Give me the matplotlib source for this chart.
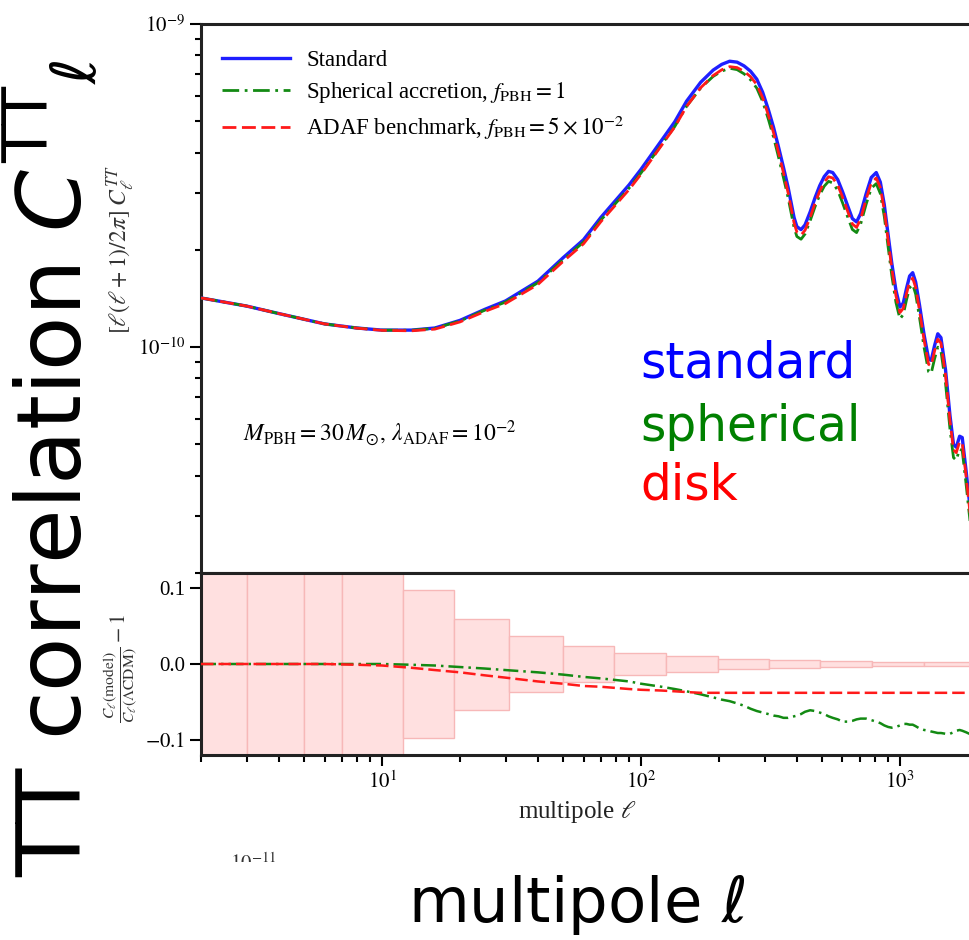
import matplotlib
matplotlib.use('Agg')
import matplotlib.pyplot as plt
from matplotlib.patches import Rectangle
import numpy as np

# multipoles (common grid for all curves)
ell = [2, 3, 4, 6, 8, 10,
       13, 16, 20, 25, 30,
       40, 50, 60, 70, 90,
       100, 120, 135, 150, 170,
       190, 205, 220, 235, 250,
       265, 280, 295, 310, 325,
       340, 355, 370, 390, 400,
       415, 430, 450, 470, 490,
       510, 530, 550, 575, 600,
       630, 655, 680, 705, 740,
       775, 810, 840, 870, 900,
       930, 965, 1000, 1030, 1060,
       1090, 1120, 1150, 1190, 1240,
       1290, 1320, 1360, 1400, 1440,
       1500, 1560, 1610, 1650, 1700,
       1740, 1800, 1880, 1960]

# [l(l+1)/2pi] C_l^TT for LCDM, in units of 1e-10
dl_std = [1.42, 1.34, 1.27, 1.18, 1.146, 1.129,
          1.129, 1.146, 1.21, 1.31, 1.39,
          1.60, 1.89, 2.15, 2.52, 3.18,
          3.55, 4.36, 4.98, 5.77, 6.60,
          7.20, 7.50, 7.67, 7.62, 7.42,
          7.14, 6.75, 6.15, 5.45, 4.79,
          4.15, 3.60, 3.12, 2.52, 2.36,
          2.31, 2.39, 2.62, 2.90, 3.16,
          3.37, 3.50, 3.47, 3.30, 3.03,
          2.72, 2.50, 2.44, 2.59, 2.98,
          3.35, 3.47, 3.24, 2.76, 2.23,
          1.82, 1.50, 1.33, 1.37, 1.52,
          1.66, 1.70, 1.59, 1.35, 1.09,
          0.92, 0.91, 1.01, 1.10, 1.07,
          0.85, 0.615, 0.50, 0.49, 0.53,
          0.525, 0.415, 0.30, 0.234]

# relative difference C_l / C_l(LCDM) - 1
res_sph = [0, 0, 0, 0, 0, 0,
           -0.001, -0.002, -0.004, -0.006, -0.008,
           -0.011, -0.014, -0.017, -0.019, -0.023,
           -0.026, -0.030, -0.033, -0.036, -0.040,
           -0.044, -0.047, -0.049, -0.052, -0.055,
           -0.059, -0.062, -0.064, -0.066, -0.068,
           -0.069, -0.071, -0.071, -0.069, -0.068,
           -0.066, -0.063, -0.061, -0.062, -0.064,
           -0.066, -0.069, -0.071, -0.073, -0.076,
           -0.076, -0.075, -0.073, -0.072, -0.072,
           -0.074, -0.076, -0.078, -0.081, -0.083,
           -0.084, -0.083, -0.081, -0.079, -0.079,
           -0.080, -0.080, -0.082, -0.085, -0.087,
           -0.088, -0.089, -0.090, -0.091, -0.091,
           -0.092, -0.092, -0.090, -0.088, -0.087,
           -0.088, -0.090, -0.093, -0.094]
res_adaf = [0, 0, 0, 0, -0.001, -0.002,
            -0.005, -0.008, -0.011, -0.015, -0.018,
            -0.023, -0.026, -0.029, -0.030, -0.033,
            -0.034, -0.035, -0.036, -0.037, -0.038,
            -0.038, -0.038, -0.038, -0.038, -0.038,
            -0.038, -0.038, -0.038, -0.038, -0.038,
            -0.038, -0.038, -0.038, -0.038, -0.038,
            -0.038, -0.038, -0.038, -0.038, -0.038,
            -0.038, -0.038, -0.038, -0.038, -0.038,
            -0.038, -0.038, -0.038, -0.038, -0.038,
            -0.038, -0.038, -0.038, -0.038, -0.038,
            -0.038, -0.038, -0.038, -0.038, -0.038,
            -0.038, -0.038, -0.038, -0.038, -0.038,
            -0.038, -0.038, -0.038, -0.038, -0.038,
            -0.038, -0.038, -0.038, -0.038, -0.038,
            -0.038, -0.038, -0.038, -0.038]

# binned error boxes on the residual
bin_edges = [2, 3, 5, 7, 12, 19, 31, 50, 79, 125, 198, 312, 491, 780, 1240, 1960]
bin_err = [1.0, 1.0, 1.0, 1.0, 0.098, 0.060, 0.037, 0.024, 0.015, 0.010, 0.007,
           0.005, 0.004, 0.003, 0.002]

plt.rcParams['font.family'] = ['Liberation Serif', 'DejaVu Serif']
plt.rcParams['mathtext.fontset'] = 'stix'

W, H = 969, 940
fig = plt.figure(figsize=(W / 100, H / 100), dpi=100)


def px(x0, y0, x1, y1):
    return [x0 / W, 1 - y1 / H, (x1 - x0) / W, (y1 - y0) / H]


ax = fig.add_axes(px(201, 24, 1003, 573))
axr = fig.add_axes(px(201, 573, 1003, 755), sharex=ax)

l = np.array(ell, dtype=float)
d = np.array(dl_std) * 1e-10
rs = np.array(res_sph)
ra = np.array(res_adaf)

ax.plot(l, d, color='#1f1fff', lw=2.4, label='Standard', zorder=3)
ax.plot(l, d * (1 + rs), color='#138a13', lw=2.0, dashes=(6, 2, 1, 2),
        label=r'Spherical accretion, $f_{\rm PBH} = 1$', zorder=4)
ax.plot(l, d * (1 + ra), color='#ff1a1a', lw=2.0, dashes=(5, 2),
        label=r'ADAF benchmark, $f_{\rm PBH} = 5\times 10^{-2}$', zorder=5)

ax.set_xscale('log')
ax.set_yscale('log')
ax.set_xlim(2, 2500)
ax.set_ylim(2e-11, 1e-9)
ax.tick_params(axis='x', which='both', length=0, labelbottom=False)
ax.tick_params(axis='y', which='major', direction='out', length=8, width=1.5,
               labelsize=15)
ax.tick_params(axis='y', which='minor', direction='out', length=4, width=1.5)
ax.set_yticks([1e-10, 1e-9])
ax.set_yticklabels([r'$10^{-10}$', r'$10^{-9}$'])

ax.legend(loc='upper left', bbox_to_anchor=(0.0, 0.99), frameon=False,
          fontsize=16.5, handlelength=3.0, handletextpad=0.7,
          labelspacing=0.38, borderaxespad=0.5)

ax.text(0.052, 0.255, r'$M_{\rm PBH} = 30\,M_{\odot},\,\lambda_{\rm ADAF} = 10^{-2}$',
        transform=ax.transAxes, fontsize=17, va='center')

# residual panel
for lo, hi, e in zip(bin_edges[:-1], bin_edges[1:], bin_err):
    axr.add_patch(Rectangle((lo, -e), hi - lo, 2 * e, facecolor='#ffe0e0',
                            edgecolor='#f7b8b8', lw=1.0, zorder=1))
axr.plot(l, rs, color='#138a13', lw=1.8, dashes=(6, 2, 1, 2), zorder=3)
axr.plot(l, ra, color='#ff1a1a', lw=1.8, dashes=(5, 2), zorder=4)
axr.set_ylim(-0.12, 0.12)
axr.set_yticks([-0.1, 0.0, 0.1])
axr.set_yticklabels([r'$-0.1$', '0.0', '0.1'])
axr.set_xticks([10, 100, 1000])
axr.set_xticklabels([r'$10^{1}$', r'$10^{2}$', r'$10^{3}$'])
axr.tick_params(axis='both', which='major', direction='out', length=8, width=1.5,
                labelsize=15)
axr.tick_params(axis='both', which='minor', direction='out', length=5, width=1.5)
axr.tick_params(axis='y', which='minor', length=0)

for a in (ax, axr):
    for s in a.spines.values():
        s.set_linewidth(2.2)
        s.set_color('#222222')

# original axis labels
fig.text(577 / W, 1 - 812 / H, r'multipole $\ell$', ha='center', va='center',
         fontsize=18, color='#222222')
fig.text(121 / W, 1 - 250 / H, r'$[\ell(\ell+1)/2\pi]\;C_\ell^{TT}$', rotation=90,
         ha='center', va='center', fontsize=17, color='#333333')
fig.text(121 / W, 1 - 668 / H, r'$\frac{C_\ell(\mathrm{model})}{C_\ell(\Lambda\mathrm{CDM})}-1$',
         rotation=90, ha='center', va='center', fontsize=16, color='#333333')
fig.text(230 / W, 1 - 870 / H, r'$10^{-11}$', fontsize=15, ha='left',
         va='baseline', color='#333333')
fig.patches.append(Rectangle((200 / W, 0), 90 / W, 1 - 862 / H, transform=fig.transFigure,
                             facecolor='white', edgecolor='none', zorder=10))

# overlay annotations
fig.text(51 / W, 1 - 468 / H, r'TT correlation $C^{\rm TT}{}_{\ell}$', rotation=90,
         ha='center', va='center', fontsize=64, family='DejaVu Sans',
         math_fontfamily='dejavusans', zorder=11)
fig.text(577 / W, 1 - 922 / H, r'multipole $\ell$', ha='center', va='baseline',
         fontsize=45, family='DejaVu Sans', math_fontfamily='dejavusans', zorder=11)
fig.text(640 / W, 1 - 377 / H, 'standard', color='#0000ff', fontsize=35,
         family='DejaVu Sans', va='baseline')
fig.text(640 / W, 1 - 441 / H, 'spherical', color='#008000', fontsize=35,
         family='DejaVu Sans', va='baseline')
fig.text(640 / W, 1 - 500 / H, 'disk', color='#ff0000', fontsize=35,
         family='DejaVu Sans', va='baseline')

fig.savefig('out.png', dpi=100)
